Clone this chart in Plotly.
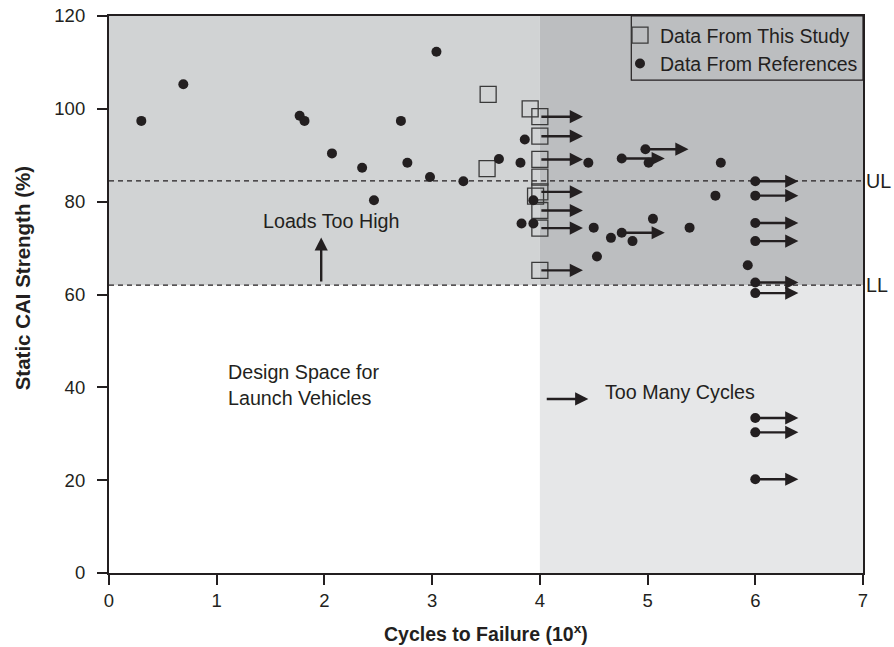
import plotly.graph_objects as go

# ---------------- data ----------------
# Data From This Study (open squares)
study_x = [3.52, 3.51, 3.91, 4.0, 4.0, 4.0, 4.0, 4.0, 3.96, 4.0, 4.0, 4.0]
study_y = [103.1, 87.1, 100.0, 98.3, 94.1, 89.1, 85.3, 82.1, 81.2, 78.1, 74.3, 65.2]
study_runout = [False, False, False, True, True, True, False, True, False, True, True, True]

# Data From References (filled dots)
ref_x = [0.30, 0.69, 1.77, 1.815, 2.07, 2.35, 2.46, 2.71, 2.77, 3.04, 2.98, 3.29,
         3.62, 3.86, 3.82, 3.94, 3.83, 3.94, 4.45, 4.76, 4.98, 5.01, 5.68, 5.63,
         5.05, 4.50, 5.39, 4.66, 4.76, 4.86, 4.53, 5.93,
         6.0, 6.0, 6.0, 6.0, 6.0, 6.0, 6.0, 6.0, 6.0]
ref_y = [97.4, 105.3, 98.5, 97.4, 90.4, 87.3, 80.3, 97.4, 88.4, 112.3, 85.3, 84.4,
         89.2, 93.4, 88.4, 80.3, 75.3, 75.3, 88.4, 89.3, 91.3, 88.4, 88.4, 81.3,
         76.3, 74.4, 74.4, 72.2, 73.3, 71.5, 68.2, 66.3,
         84.4, 81.3, 75.4, 71.5, 62.6, 60.3, 33.4, 30.3, 20.2]
ref_runout = [False] * 19 + [True, True] + [False] * 7 + [True] + [False] * 3 + [True] * 9

UL = 84.5          # upper load limit
LL = 62.0          # lower load limit
CYCLE_LIMIT = 4.0  # design cycle limit (10^x)
RUNOUT_LEN = 0.4   # length of run-out arrows in decades

x_ticks = [0, 1, 2, 3, 4, 5, 6, 7]
y_ticks = [0, 20, 40, 60, 80, 100, 120]

# ---------------- styling ----------------
INK = "#231f20"
FONT = "Liberation Sans, Arial, sans-serif"
GRAY_LOAD = "#d1d3d4"
GRAY_BOTH = "#bcbec0"
GRAY_CYC = "#e6e7e8"
TXT_SIZE = 19.7

fig = go.Figure()

fig.add_trace(go.Scatter(
    x=study_x, y=study_y, mode="markers", name="Data From This Study",
    marker=dict(symbol="square-open", size=16, color="#3a3a3a", line=dict(width=1.3)),
))
fig.add_trace(go.Scatter(
    x=ref_x, y=ref_y, mode="markers", name="Data From References",
    marker=dict(symbol="circle", size=10, color=INK),
))

shapes = [
    dict(type="rect", xref="x", yref="y", x0=0, x1=CYCLE_LIMIT, y0=LL, y1=120,
         fillcolor=GRAY_LOAD, line=dict(width=0), layer="below"),
    dict(type="rect", xref="x", yref="y", x0=CYCLE_LIMIT, x1=7, y0=LL, y1=120,
         fillcolor=GRAY_BOTH, line=dict(width=0), layer="below"),
    dict(type="rect", xref="x", yref="y", x0=CYCLE_LIMIT, x1=7, y0=0, y1=LL,
         fillcolor=GRAY_CYC, line=dict(width=0), layer="below"),
]
for lim in (UL, LL):
    shapes.append(dict(type="line", xref="x", yref="y", x0=0, x1=7, y0=lim, y1=lim,
                       line=dict(color=INK, width=1.2, dash="5px,4px"), layer="above"))

annotations = []
arrow_style = dict(showarrow=True, arrowhead=2, arrowsize=1.1, arrowwidth=2.4,
                   arrowcolor=INK, text="", axref="x", ayref="y", standoff=0)
for xs, ys, rs in ((study_x, study_y, study_runout), (ref_x, ref_y, ref_runout)):
    for xv, yv, r in zip(xs, ys, rs):
        if r:
            annotations.append(dict(x=xv + RUNOUT_LEN, y=yv, ax=xv, ay=yv, **arrow_style))

# key arrow for run-outs
annotations.append(dict(x=4.05 + RUNOUT_LEN, y=37.5, ax=4.05, ay=37.5, **arrow_style))
# "loads too high" arrow
annotations.append(dict(x=1.97, y=72.3, ax=1.97, ay=LL + 0.5, **arrow_style))

txt = dict(font=dict(family=FONT, size=TXT_SIZE, color=INK), showarrow=False)
annotations += [
    dict(x=2.06, y=75.8, text="Loads Too High", xanchor="center", yanchor="middle", **txt),
    dict(x=1.09, y=40.6, text="Design Space for<br>Launch Vehicles", xanchor="left",
         yanchor="middle", align="left", **txt),
    dict(x=4.585, y=39.1, text="Too Many Cycles", xanchor="left", yanchor="middle", **txt),
    dict(x=1, xref="paper", y=UL, yref="y", text="UL", xanchor="left", yanchor="middle",
         xshift=1, **txt),
    dict(x=1, xref="paper", y=LL, yref="y", text="LL", xanchor="left", yanchor="middle",
         xshift=1, **txt),
    dict(x=0, xref="paper", y=0.529, yref="paper", text="<b>Static CAI Strength (%)</b>",
         textangle=-90, xanchor="center", yanchor="middle", xshift=-87,
         font=dict(family=FONT, size=20.5, color=INK), showarrow=False),
    dict(x=0.5, xref="paper", y=0, yref="paper",
         text="<b>Cycles to Failure (10<sup>x</sup>)</b>",
         xanchor="center", yanchor="middle", yshift=-60,
         font=dict(family=FONT, size=19.5, color=INK), showarrow=False),
]

# legend frame (drawn as a shape so the entries can sit close to its left edge)
shapes.append(dict(type="rect", xref="paper", yref="paper", x0=0.6927, x1=1.0,
                   y0=0.885, y1=1.0, line=dict(color=INK, width=1.2),
                   fillcolor="rgba(0,0,0,0)", layer="above"))

axis_common = dict(showline=True, linecolor=INK, linewidth=2.2, mirror=True,
                   showgrid=False, zeroline=False, ticks="outside", ticklen=10,
                   tickwidth=1.5, tickcolor=INK, automargin=False,
                   tickfont=dict(family=FONT, size=18.5, color=INK))

fig.update_layout(
    width=894, height=647,
    margin=dict(l=109, r=31, t=16, b=74),
    plot_bgcolor="white", paper_bgcolor="white",
    shapes=shapes, annotations=annotations,
    xaxis=dict(range=[0, 7], tickvals=x_ticks, **axis_common),
    yaxis=dict(range=[0, 120], tickvals=y_ticks, **axis_common, ticklabelstandoff=8),
    legend=dict(x=1, y=1, xanchor="right", yanchor="top", bgcolor="rgba(0,0,0,0)",
                borderwidth=0, indentation=-9,
                font=dict(family=FONT, size=19.5, color=INK),
                itemwidth=30, tracegroupgap=0),
    showlegend=True,
)

fig.write_html("out.html")
